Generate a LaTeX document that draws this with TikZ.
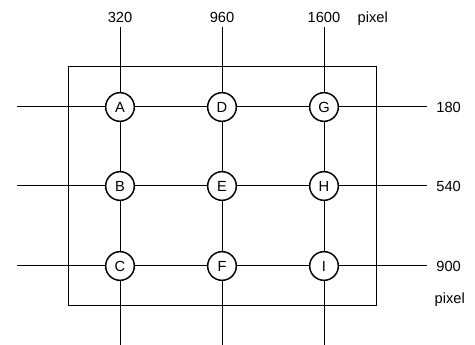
\documentclass[tikz,border=0pt]{standalone}
\usepackage{fontspec}
\setmainfont{Liberation Sans}
\begin{document}
\begin{tikzpicture}[x=0.75pt,y=-0.75pt,font=\fontsize{11}{13}\selectfont,
  spot/.style={draw,circle,line width=1.1pt,fill=white,minimum size=21.5pt,inner sep=0pt},
  grid/.style={line width=0.75pt}]
\useasboundingbox (0,0) rectangle (475,345);
% frame of the image
\draw[grid] (68,67) rectangle (376,306);
% sample points
\node[spot] (A) at (120,107) {A};
\node[spot] (B) at (120,186) {B};
\node[spot] (C) at (120,266) {C};
\node[spot] (D) at (222,107) {D};
\node[spot] (E) at (222,186) {E};
\node[spot] (F) at (222,266) {F};
\node[spot] (G) at (324,107) {G};
\node[spot] (H) at (324,186) {H};
\node[spot] (I) at (324,266) {I};
% line ends
\coordinate (top1) at (120,27);
\coordinate (top2) at (222,27);
\coordinate (top3) at (324,27);
\coordinate (bot1) at (120,345);
\coordinate (bot2) at (222,345);
\coordinate (bot3) at (324,345);
\coordinate (lft1) at (17,107);
\coordinate (lft2) at (17,186);
\coordinate (lft3) at (17,266);
\coordinate (rgt1) at (427,107);
\coordinate (rgt2) at (427,186);
\coordinate (rgt3) at (427,266);
% columns
\draw[grid] (top1) -- (A) -- (B) -- (C) -- (bot1);
\draw[grid] (top2) -- (D) -- (E) -- (F) -- (bot2);
\draw[grid] (top3) -- (G) -- (H) -- (I) -- (bot3);
% rows
\draw[grid] (lft1) -- (A) -- (D) -- (G) -- (rgt1);
\draw[grid] (lft2) -- (B) -- (E) -- (H) -- (rgt2);
\draw[grid] (lft3) -- (C) -- (F) -- (I) -- (rgt3);
% labels
\node[above] (xa) at (top1) {320};
\node[above] (xb) at (top2) {960};
\node[above] (xc) at (top3) {1600};
\node[anchor=base west] (xunit) at ([xshift=6pt]xc.base east) {pixel};
\node[right=3.5pt] (ya) at (rgt1) {180};
\node[right=3.5pt] (yb) at (rgt2) {540};
\node[right=3.5pt] (yc) at (rgt3) {900};
\node[anchor=base west] (yunit) at (430,304) {pixel};
\end{tikzpicture}
\end{document}
